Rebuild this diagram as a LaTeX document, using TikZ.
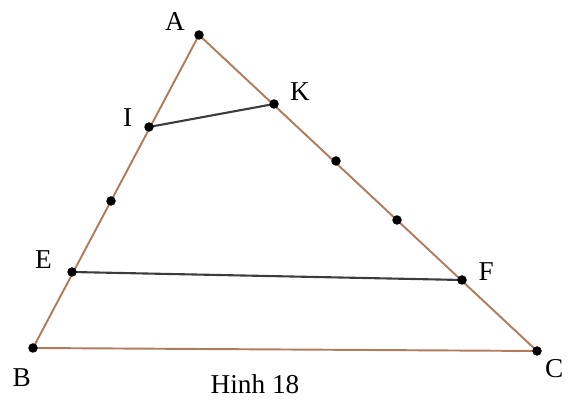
\documentclass[tikz,border=0pt]{standalone}
\usepackage{fontspec}
\setmainfont{Liberation Serif}
\usetikzlibrary{positioning,backgrounds}
\definecolor{side}{HTML}{B07C5C}
\definecolor{seg}{HTML}{3C3C3C}

\begin{document}
\begin{tikzpicture}[
  dot/.style={circle, fill=black, inner sep=0pt, minimum size=1.9mm},
  lab/.style={inner sep=1pt, font=\fontsize{15.5}{18}\selectfont},
  edge/.style={draw=side, line width=1.1pt},
  mid/.style={draw=seg, line width=1.2pt}
]
\useasboundingbox (0,0) rectangle (11.52,8.12);
% points
\node[dot] (A) at (3.98,7.42) {};
\node[dot] (B) at (0.66,1.16) {};
\node[dot] (C) at (10.74,1.10) {};
\node[dot] (I) at (2.98,5.58) {};
\node[dot] (K) at (5.48,6.04) {};
\node[dot] (E) at (1.44,2.68) {};
\node[dot] (F) at (9.24,2.52) {};
\node[dot] (m1) at (2.22,4.10) {};
\node[dot] (m2) at (6.72,4.90) {};
\node[dot] (m3) at (7.94,3.72) {};
% sides
\begin{pgfonlayer}{background}
\draw[edge] (A.center) -- (B.center) -- (C.center) -- cycle;
\draw[mid] (I.center) -- (K.center);
\draw[mid] (E.center) -- (F.center);
\end{pgfonlayer}
% labels
\node[lab, above left=-0.3mm and 1.7mm of A] {A};
\node[lab, above right=-0.5mm and 2.1mm of K] {K};
\node[lab, above left=-1.1mm and 2.2mm of I] {I};
\node[lab, above left=-0.5mm and 2.9mm of E] {E};
\node[lab, above right=-1.3mm and 2.2mm of F] {F};
\node[lab, below left=2.9mm and -0.7mm of B] {B};
\node[lab, below right=0.5mm and 0.5mm of C] {C};
\node[lab] (cap) at (5.1,0.44) {Hinh 18};
\end{tikzpicture}
\end{document}
